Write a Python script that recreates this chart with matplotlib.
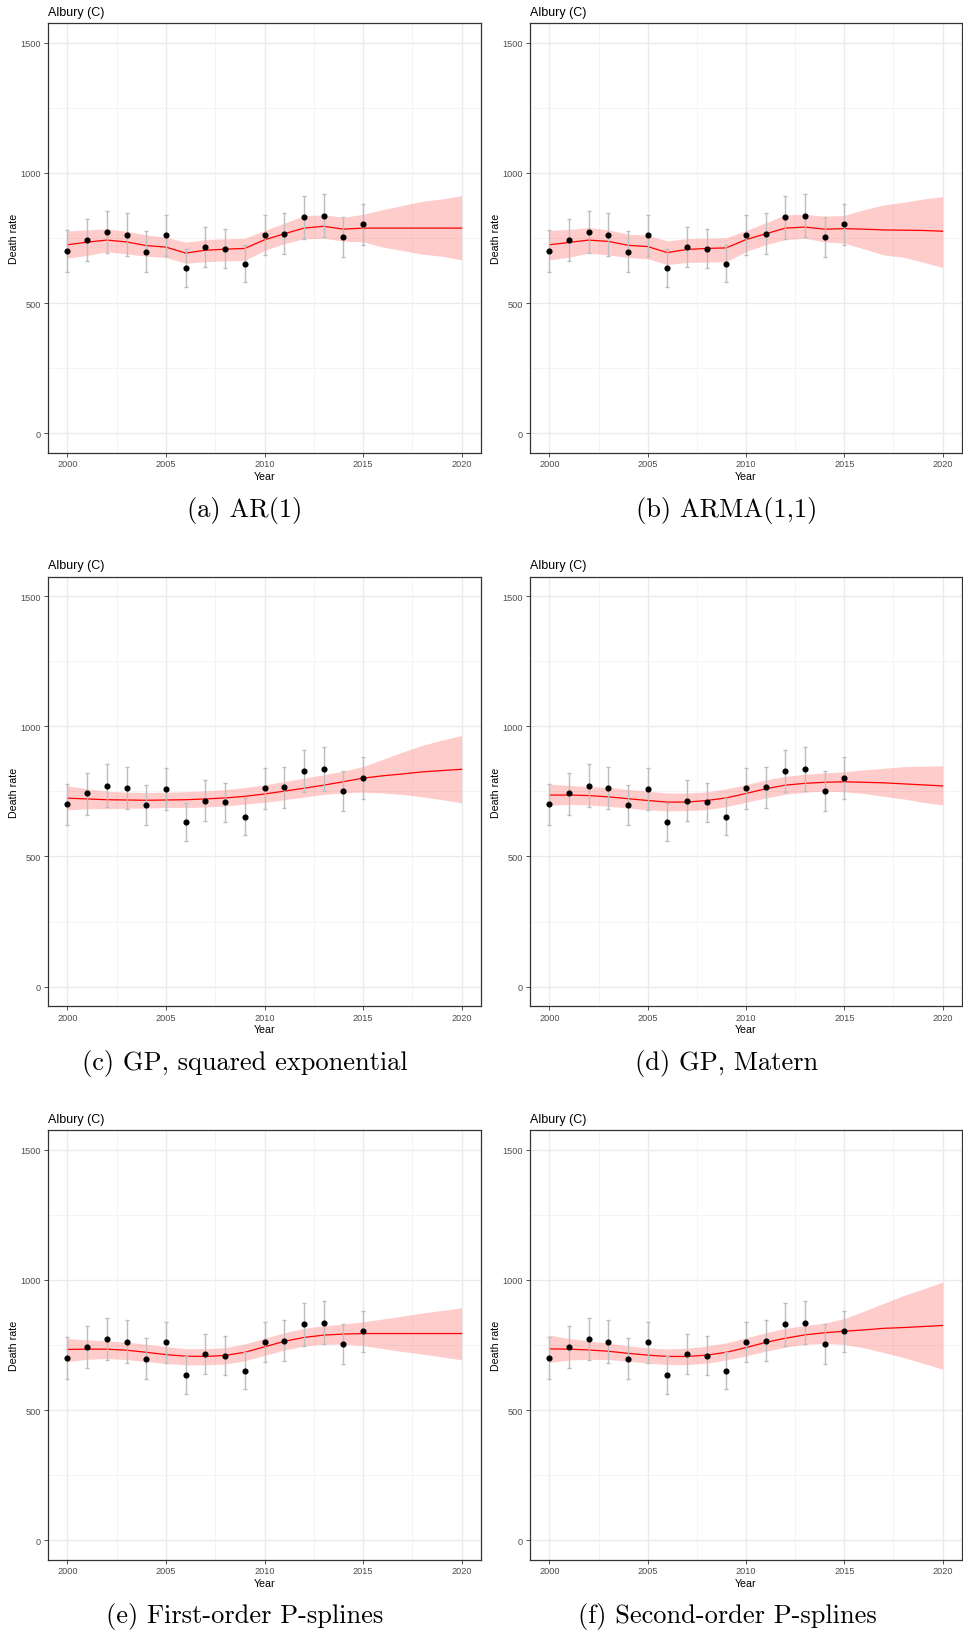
import matplotlib
matplotlib.use("Agg")
import matplotlib.pyplot as plt
from matplotlib.ticker import MultipleLocator

# observed death rates (Albury) with interval
years_obs = [2000, 2001, 2002, 2003, 2004, 2005, 2006, 2007,
             2008, 2009, 2010, 2011, 2012, 2013, 2014, 2015]
rate = [700, 743, 772, 762, 697, 760, 633, 715, 708, 652, 763, 766, 829, 836, 753, 803]
rate_lo = [620, 661, 691, 682, 619, 680, 561, 638, 633, 581, 684, 688, 747, 753, 676, 722]
rate_hi = [780, 822, 854, 845, 776, 840, 707, 792, 784, 724, 840, 845, 910, 919, 830, 882]

years_fit = [2000, 2001, 2002, 2003, 2004, 2005, 2006, 2007, 2008, 2009, 2010,
             2011, 2012, 2013, 2014, 2015, 2016, 2017, 2018, 2019, 2020]

ar1_fit = [724, 734, 742, 735, 721, 715, 692, 703, 707, 710, 743, 766, 788, 795, 784, 788, 788, 788, 788, 788, 788]
ar1_lo = [673, 683, 697, 689, 680, 675, 653, 659, 662, 664, 702, 728, 747, 749, 738, 735, 715, 702, 688, 680, 666]
ar1_hi = [777, 781, 785, 776, 762, 753, 734, 744, 747, 749, 779, 807, 836, 839, 830, 841, 859, 875, 891, 900, 913]

arma_fit = [724, 733, 742, 737, 722, 717, 694, 706, 710, 712, 744, 766, 788, 792, 784, 786, 784, 781, 780, 779, 776]
arma_lo = [666, 676, 692, 685, 675, 670, 648, 656, 657, 659, 698, 724, 744, 749, 735, 730, 708, 685, 676, 657, 637]
arma_hi = [779, 783, 790, 781, 765, 761, 739, 748, 749, 751, 779, 808, 839, 841, 834, 837, 859, 877, 887, 900, 909]

gpse_fit = [724, 721, 718, 717, 716, 717, 718, 721, 725, 731, 740, 751, 762, 774, 787, 801, 810, 817, 825, 830, 835]
gpse_lo = [679, 683, 684, 685, 686, 688, 688, 690, 694, 701, 708, 718, 728, 738, 745, 747, 744, 738, 729, 718, 706]
gpse_hi = [772, 760, 751, 747, 746, 747, 749, 752, 757, 765, 775, 788, 801, 814, 828, 846, 873, 901, 927, 947, 965]

gpm_fit = [736, 736, 734, 729, 722, 715, 709, 709, 715, 725, 742, 760, 774, 781, 785, 787, 785, 783, 779, 775, 771]
gpm_lo = [697, 700, 698, 693, 686, 679, 675, 676, 680, 692, 708, 725, 739, 747, 751, 748, 742, 731, 721, 708, 698]
gpm_hi = [778, 773, 769, 765, 758, 751, 744, 744, 748, 760, 776, 794, 808, 816, 821, 826, 833, 839, 845, 847, 848]

ps1_fit = [733, 734, 734, 730, 722, 713, 707, 706, 710, 722, 743, 764, 779, 788, 792, 794, 794, 794, 794, 794, 794]
ps1_lo = [686, 695, 698, 694, 686, 679, 674, 674, 677, 689, 710, 730, 746, 753, 753, 748, 736, 725, 715, 704, 693]
ps1_hi = [775, 770, 766, 761, 753, 744, 736, 736, 740, 754, 776, 797, 814, 824, 830, 839, 850, 861, 873, 883, 893]

ps2_fit = [735, 734, 731, 726, 718, 711, 706, 706, 711, 722, 740, 760, 776, 789, 797, 803, 808, 814, 817, 821, 825]
ps2_lo = [683, 692, 695, 694, 688, 680, 675, 675, 680, 692, 708, 726, 742, 752, 756, 752, 739, 721, 702, 680, 657]
ps2_hi = [788, 775, 766, 757, 747, 739, 735, 738, 746, 758, 778, 797, 814, 825, 834, 852, 880, 910, 940, 965, 992]

captions = ["(a) AR(1)", "(b) ARMA(1,1)", "(c) GP, squared exponential",
            "(d) GP, Matern", "(e) First-order P-splines", "(f) Second-order P-splines"]

models = [(ar1_fit, ar1_lo, ar1_hi), (arma_fit, arma_lo, arma_hi),
          (gpse_fit, gpse_lo, gpse_hi), (gpm_fit, gpm_lo, gpm_hi),
          (ps1_fit, ps1_lo, ps1_hi), (ps2_fit, ps2_lo, ps2_hi)]

W, H = 963, 1633
fig = plt.figure(figsize=(W / 100, H / 100), dpi=100)
plt.rcParams['font.family'] = ['Liberation Sans', 'DejaVu Sans']

col_x = [(47.7, 433.6), (529.7, 432.6)]
cap_x = [245, 727]
row_top = [24.3, 577.7, 1131.3]
box_h = 429.4

yerr = [[r - lo for r, lo in zip(rate, rate_lo)], [hi - r for r, hi in zip(rate, rate_hi)]]

for i, (fit, lo, hi) in enumerate(models):
    r, c = divmod(i, 2)
    x0, w = col_x[c]
    top = row_top[r]
    ax = fig.add_axes([x0 / W, 1 - (top + box_h) / H, w / W, box_h / H])

    ax.fill_between(years_fit, lo, hi, color='red', alpha=0.2, linewidth=0, zorder=2)
    ax.plot(years_fit, fit, color='red', lw=0.9, zorder=3)
    ax.errorbar(years_obs, rate, yerr=yerr, fmt='none', ecolor='#BDBDBD',
                elinewidth=1.0, capsize=1.3, capthick=1.0, zorder=4)
    ax.plot(years_obs, rate, 'o', color='black', ms=3.4, zorder=5)

    ax.set_xlim(1999, 2021)
    ax.set_ylim(-75, 1575)
    ax.xaxis.set_major_locator(MultipleLocator(5))
    ax.xaxis.set_minor_locator(MultipleLocator(2.5))
    ax.yaxis.set_major_locator(MultipleLocator(500))
    ax.yaxis.set_minor_locator(MultipleLocator(250))
    ax.grid(which='major', color='#EBEBEB', lw=1.0)
    ax.grid(which='minor', color='#F2F2F2', lw=0.6)
    ax.set_axisbelow(True)
    ax.tick_params(which='major', length=2.75, width=0.6, color='#333333',
                   labelsize=6.6, labelcolor='#4D4D4D', pad=2)
    ax.tick_params(which='minor', length=0)
    for s in ax.spines.values():
        s.set_color('#333333')
        s.set_linewidth(0.9)

    ax.set_title('Albury (C)', loc='left', fontsize=9, pad=6)
    ax.set_ylabel('Death rate', fontsize=7.7)
    ax.set_xlabel('Year', fontsize=7.7)
    ax.yaxis.set_label_coords(-0.066, 0.5)
    ax.xaxis.set_label_coords(0.5, -0.042)

    fig.text(cap_x[c] / W, 1 - (510 + r * 553.5) / H, captions[i],
             family='cmr10', fontsize=19, ha='center', va='center')

fig.savefig('out.png', dpi=100)
